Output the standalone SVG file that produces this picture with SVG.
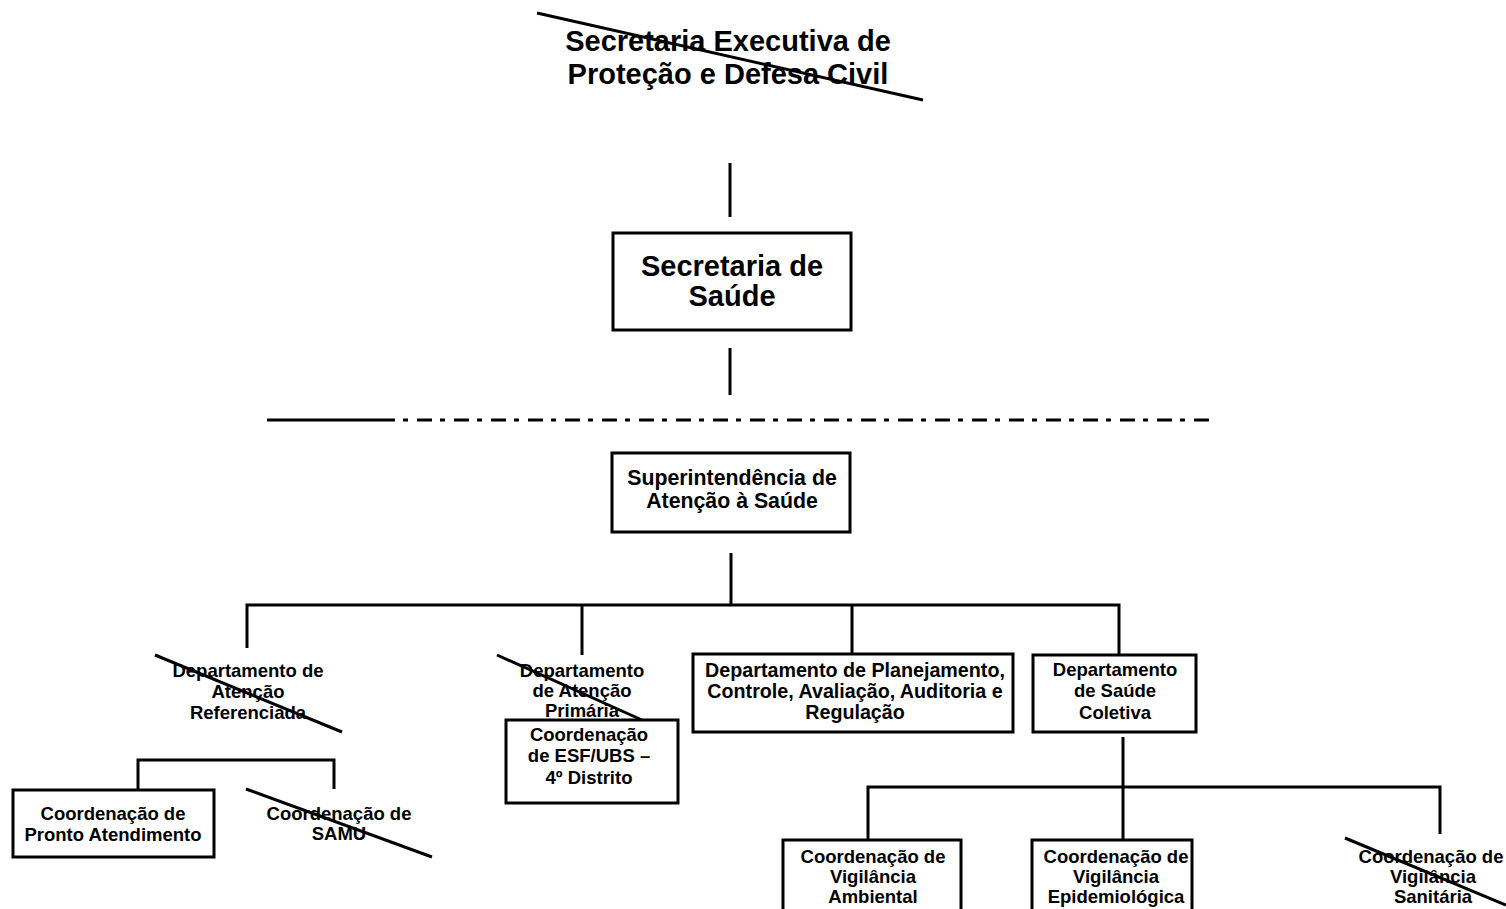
<svg xmlns="http://www.w3.org/2000/svg" width="1506" height="909" viewBox="0 0 1506 909">
<style>
text{font-family:"Liberation Sans",Arial,sans-serif;font-weight:bold;fill:#000;text-anchor:middle}
.big{font-size:29px}
.sm{font-size:18.5px}
.md{font-size:19.7px}
.lg{font-size:21.3px}
.box{fill:#fff;stroke:#000;stroke-width:3}
.ln{stroke:#000;stroke-width:3;fill:none}
.strike{stroke:#000;stroke-width:3;fill:none}
</style>
<rect width="1506" height="909" fill="#fff"/>
<g id="connectors">
<line class="ln" x1="730" y1="163" x2="730" y2="217"/>
<line class="ln" x1="730" y1="348" x2="730" y2="395"/>
<line class="ln" x1="267" y1="420" x2="380" y2="420"/>
<line class="ln" x1="380" y1="420" x2="1213" y2="420" stroke-dasharray="15 8 5 9"/>
<line class="ln" x1="731" y1="553" x2="731" y2="605"/>
<polyline class="ln" points="247,648 247,605 1119,605 1119,655"/>
<line class="ln" x1="582" y1="605" x2="582" y2="655"/>
<line class="ln" x1="852" y1="605" x2="852" y2="654"/>
<polyline class="ln" points="138,789 138,760 334,760 334,789"/>
<line class="ln" x1="1123" y1="737" x2="1123" y2="840"/>
<polyline class="ln" points="868,840 868,787 1440,787 1440,834"/>
</g>
<g id="n-exec">
<text class="big" x="728" y="51">Secretaria Executiva de</text>
<text class="big" x="728" y="84">Proteção e Defesa Civil</text>
<line class="strike" x1="537" y1="13" x2="923" y2="100"/>
</g>
<g id="n-saude">
<rect class="box" x="613" y="233" width="238" height="97"/>
<text class="big" x="732" y="276">Secretaria de</text>
<text class="big" x="732" y="306">Saúde</text>
</g>
<g id="n-super">
<rect class="box" x="612" y="453" width="238" height="79"/>
<text class="lg" x="732" y="485">Superintendência de</text>
<text class="lg" x="732" y="508">Atenção à Saúde</text>
</g>
<g id="n-ref">
<text class="sm" x="248" y="677">Departamento de</text>
<text class="sm" x="248" y="698">Atenção</text>
<text class="sm" x="248" y="719">Referenciada</text>
<line class="strike" x1="155" y1="655" x2="342" y2="732"/>
</g>
<g id="n-prim">
<text class="sm" x="582" y="677">Departamento</text>
<text class="sm" x="582" y="697">de Atenção</text>
<text class="sm" x="582" y="717">Primária</text>
<line class="strike" x1="497" y1="655" x2="642" y2="720"/>
</g>
<g id="n-esf">
<rect class="box" x="506" y="720" width="172" height="83"/>
<text class="sm" x="589" y="741">Coordenação</text>
<text class="sm" x="589" y="762">de ESF/UBS –</text>
<text class="sm" x="589" y="784">4º Distrito</text>
</g>
<g id="n-plan">
<rect class="box" x="693" y="654" width="320" height="78"/>
<text class="md" x="855" y="677">Departamento de Planejamento,</text>
<text class="md" x="855" y="698">Controle, Avaliação, Auditoria e</text>
<text class="md" x="855" y="719">Regulação</text>
</g>
<g id="n-coletiva">
<rect class="box" x="1033" y="655" width="163" height="77"/>
<text class="sm" x="1115" y="676">Departamento</text>
<text class="sm" x="1115" y="697">de Saúde</text>
<text class="sm" x="1115" y="719">Coletiva</text>
</g>
<g id="n-pronto">
<rect class="box" x="13" y="790" width="201" height="67"/>
<text class="sm" x="113" y="820">Coordenação de</text>
<text class="sm" x="113" y="841">Pronto Atendimento</text>
</g>
<g id="n-samu">
<text class="sm" x="339" y="820">Coordenação de</text>
<text class="sm" x="339" y="840">SAMU</text>
<line class="strike" x1="246" y1="789" x2="432" y2="857"/>
</g>
<g id="n-amb">
<rect class="box" x="783" y="840" width="178" height="80"/>
<text class="sm" x="873" y="863">Coordenação de</text>
<text class="sm" x="873" y="883">Vigilância</text>
<text class="sm" x="873" y="903">Ambiental</text>
</g>
<g id="n-epi">
<rect class="box" x="1032" y="840" width="160" height="80"/>
<text class="sm" x="1116" y="863">Coordenação de</text>
<text class="sm" x="1116" y="883">Vigilância</text>
<text class="sm" x="1116" y="903">Epidemiológica</text>
</g>
<g id="n-san">
<text class="sm" x="1431" y="863">Coordenação de</text>
<text class="sm" x="1433" y="883">Vigilância</text>
<text class="sm" x="1433" y="903">Sanitária</text>
<line class="strike" x1="1345" y1="838" x2="1506" y2="905"/>
</g>
</svg>
